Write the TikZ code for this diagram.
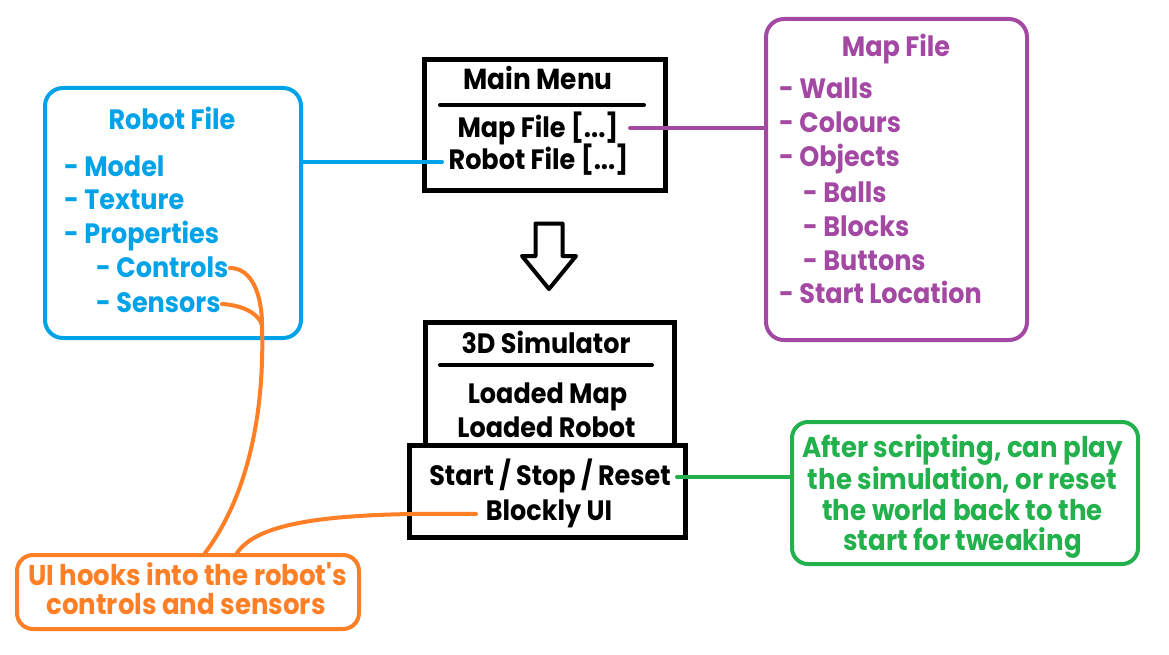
\documentclass[tikz,border=0pt]{standalone}
\usepackage{fontspec}
\newfontfamily\popfont{Poppins}[FakeStretch=0.91]
\definecolor{cblue}{HTML}{00A2E8}
\definecolor{cpurple}{HTML}{A349A4}
\definecolor{cgreen}{HTML}{22B14C}
\definecolor{corange}{HTML}{FF7F27}
\newcommand\fsBig{\fontsize{28}{32}\selectfont}
\newcommand\fsNote{\fontsize{28.6}{32}\selectfont}
\begin{document}
\begin{tikzpicture}[x=1pt,y=-1pt,
  txt/.style={anchor=base, inner sep=0pt, font=\popfont\bfseries\fsBig},
  ltxt/.style={anchor=base west, inner sep=0pt, font=\popfont\bfseries\fsBig},
  ntxt/.style={anchor=base, inner sep=0pt, font=\popfont\bfseries\fsNote},
  blackbox/.style={draw=black, line width=5pt, inner sep=0pt},
  cbox/.style={draw=#1, line width=4pt, rounded corners=18pt, inner sep=0pt},
  sepline/.style={draw=black, line width=4pt, line cap=round},
  link/.style={draw=#1, line width=4pt, line cap=round}]
\useasboundingbox (0,0) rectangle (1169,655);
\fill[white] (0,0) rectangle (1169,655);

% ---------- Main menu ----------
\node[blackbox, minimum width=241.5pt, minimum height=131pt] (mainmenu) at (544.75,125) {};
\coordinate (mmsepL) at (440,105);
\coordinate (mmsepR) at (644,105);
\draw[sepline] (mmsepL) -- (mmsepR);
\node[txt, font=\popfont\bfseries\fontsize{29}{32}\selectfont] (mmtitle) at (538,90) {Main Menu};
\node[txt] (mmmap) at (538,138) {Map File [...]};
\node[txt] (mmrobot) at (538.5,170) {Robot File [...]};

% ---------- Arrow ----------
\coordinate (a1) at (535.5,223.5);
\coordinate (a2) at (562.5,223.5);
\coordinate (a3) at (562.5,256);
\coordinate (a4) at (576,256);
\coordinate (a5) at (549,289);
\coordinate (a6) at (522,256);
\coordinate (a7) at (535.5,256);
\draw[black, line width=4pt, line join=round] (a1) -- (a2) -- (a3) -- (a4) -- (a5) -- (a6) -- (a7) -- cycle;

% ---------- 3D simulator ----------
\node[blackbox, minimum width=249pt, minimum height=123pt] (simtop) at (550,384) {};
\node[blackbox, fill=white, minimum width=276pt, minimum height=92pt] (simbot) at (547.5,491.5) {};
\coordinate (ssepL) at (440,365);
\coordinate (ssepR) at (652,365);
\draw[sepline] (ssepL) -- (ssepR);
\node[txt] (simtitle) at (546,353) {3D Simulator};
\node[txt] (simmap) at (547.5,403) {Loaded Map};
\node[txt] (simrobot) at (546.5,437) {Loaded Robot};
\node[txt] (simstart) at (550,485) {Start / Stop / Reset};
\node[txt] (simblockly) at (549,520) {Blockly UI};

% ---------- Robot file ----------
\node[cbox=cblue, minimum width=256pt, minimum height=250pt] (robotbox) at (173,213) {};
\begin{scope}[every node/.append style={text=cblue}]
\node[txt] (rtitle) at (172,130) {Robot File};
\node[ltxt] (r1) at (64,177) {- Model};
\node[ltxt] (r2) at (64,209) {- Texture};
\node[ltxt] (r3) at (64,243) {- Properties};
\node[ltxt] (r4) at (96,277) {- Controls};
\node[ltxt] (r5) at (96,312) {- Sensors};
\end{scope}

% ---------- Map file ----------
\node[cbox=cpurple, minimum width=261pt, minimum height=321pt] (mapbox) at (896.5,179.5) {};
\begin{scope}[every node/.append style={text=cpurple}]
\node[txt] (mtitle) at (896,57) {Map File};
\node[ltxt] (m1) at (779,99) {- Walls};
\node[ltxt] (m2) at (779,133) {- Colours};
\node[ltxt] (m3) at (779,167) {- Objects};
\node[ltxt] (m4) at (803,202) {- Balls};
\node[ltxt] (m5) at (803,236) {- Blocks};
\node[ltxt] (m6) at (803,270) {- Buttons};
\node[ltxt] (m7) at (779,303) {- Start Location};
\end{scope}

% ---------- Green note ----------
\node[cbox=cgreen, rounded corners=16pt, minimum width=346pt, minimum height=142pt] (greenbox) at (965,493) {};
\begin{scope}[every node/.append style={text=cgreen}]
\node[ntxt] (g1) at (962.5,457) {After scripting, can play};
\node[ntxt] (g2) at (962.5,489) {the simulation, or reset};
\node[ntxt] (g3) at (962.5,520) {the world back to the};
\node[ntxt] (g4) at (962.5,550) {start for tweaking};
\end{scope}

% ---------- Orange note ----------
\node[cbox=corange, rounded corners=16pt, minimum width=342pt, minimum height=74pt] (orangebox) at (188,592) {};
\begin{scope}[every node/.append style={text=corange}]
\node[ntxt] (o1) at (187.5,585) {UI hooks into the robot's};
\node[ntxt] (o2) at (186,614) {controls and sensors};
\end{scope}

% ---------- Connectors ----------
\coordinate (bl1) at (304,162);
\coordinate (bl2) at (442,162);
\draw[link=cblue] (bl1) -- (bl2);
\coordinate (pl1) at (630,128);
\coordinate (pl2) at (765,128);
\draw[link=cpurple] (pl1) -- (pl2);
\coordinate (gl1) at (677,477);
\coordinate (gl2) at (790,477);
\draw[link=cgreen] (gl1) -- (gl2);

\coordinate (ctrlEnd) at (230,268);
\coordinate (sensEnd) at (222,304);
\coordinate (join) at (262,325);
\coordinate (oTop1) at (205,553);
\coordinate (blkEnd) at (476,514);
\coordinate (oTop2) at (237,553);
\draw[link=corange] (ctrlEnd) .. controls (252,268) and (262,295) .. (join);
\draw[link=corange] (sensEnd) .. controls (240,305) and (258,312) .. (join);
\draw[link=corange] (join) .. controls (265,420) and (245,500) .. (oTop1);
\draw[link=corange] (blkEnd) .. controls (330,512) and (258,522) .. (oTop2);
\end{tikzpicture}
\end{document}
